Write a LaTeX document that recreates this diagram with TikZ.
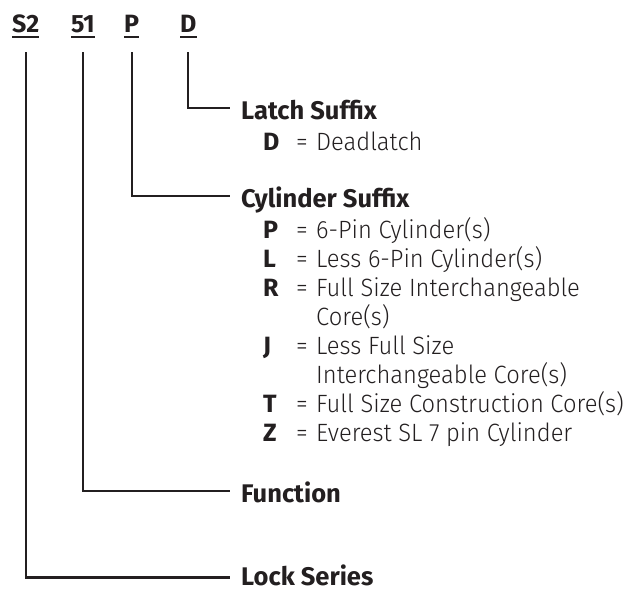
\documentclass[tikz,border=0pt]{standalone}
\usepackage{fontspec}
\setmainfont{Fira Sans Light}[BoldFont={Fira Sans Bold}, UprightFeatures={FakeStretch=0.95}]
\usetikzlibrary{calc}
\definecolor{ink}{HTML}{231F20}
\begin{document}
\begin{tikzpicture}[x=1pt,y=-1pt,
  every node/.style={inner sep=0pt, anchor=base west, text=ink},
  hdr/.style={font=\fontsize{25}{25}\selectfont\bfseries},
  head/.style={font=\fontsize{25.5}{25.5}\selectfont\bfseries},
  keyl/.style={font=\fontsize{25}{25}\selectfont\bfseries},
  txt/.style={font=\fontsize{25}{25}\selectfont},
  conn/.style={draw=ink, line width=2.2pt},
  uline/.style={draw=ink, line width=2pt}]
\useasboundingbox (0,0) rectangle (624,590);

% header code
\node[hdr] (s2) at (12,32) {S2};
\node[hdr] (f51) at (71,32) {51};
\node[hdr] (pp) at (124,32) {P};
\node[hdr] (dd) at (180,32) {D};
\foreach \n in {s2,f51,pp,dd}
  \draw[uline] ([yshift=-5pt]\n.base west) -- ([yshift=-5pt]\n.base east);

% labels
\node[head] (latch) at (241,119) {Latch Suffix};
\node[keyl] (kD) at (263,150) {D};
\node[txt] (eD) at (296,150) {=};
\node[txt] (tD) at (316,150) {Deadlatch};

\node[head] (cyl) at (241,207) {Cylinder Suffix};
\node[keyl] (kP) at (263,238) {P};
\node[txt] (eP) at (296,238) {=};
\node[txt] (tP) at (316,238) {6-Pin Cylinder(s)};
\node[keyl] (kL) at (263,267) {L};
\node[txt] (eL) at (296,267) {=};
\node[txt] (tL) at (316,267) {Less 6-Pin Cylinder(s)};
\node[keyl] (kR) at (263,296) {R};
\node[txt] (eR) at (296,296) {=};
\node[txt] (tR) at (316,296) {Full Size Interchangeable};
\node[txt] (tR2) at (316,325) {Core(s)};
\node[keyl] (kJ) at (263,354) {J};
\node[txt] (eJ) at (296,354) {=};
\node[txt] (tJ) at (316,354) {Less Full Size};
\node[txt] (tJ2) at (316,383) {Interchangeable Core(s)};
\node[keyl] (kT) at (263,412) {T};
\node[txt] (eT) at (296,412) {=};
\node[txt] (tT) at (316,412) {Full Size Construction Core(s)};
\node[keyl] (kZ) at (263,441) {Z};
\node[txt] (eZ) at (296,441) {=};
\node[txt] (tZ) at (316,441) {Everest SL 7 pin Cylinder};

\node[head] (func) at (241,502) {Function};
\node[head] (lock) at (241,585.5) {Lock Series};

% connectors
\draw[conn] ($(dd.base)+(0,20)$) |- ([xshift=-11pt,yshift=11pt]latch.base west);
\draw[conn] ($(pp.base)+(0,20)$) |- ([xshift=-11pt,yshift=11pt]cyl.base west);
\draw[conn] ($(f51.base)+(0,20)$) |- ([xshift=-11pt,yshift=11pt]func.base west);
\draw[conn] ($(s2.base)+(0,20)$) |- ([xshift=-11pt,yshift=8pt]lock.base west);
\end{tikzpicture}
\end{document}
